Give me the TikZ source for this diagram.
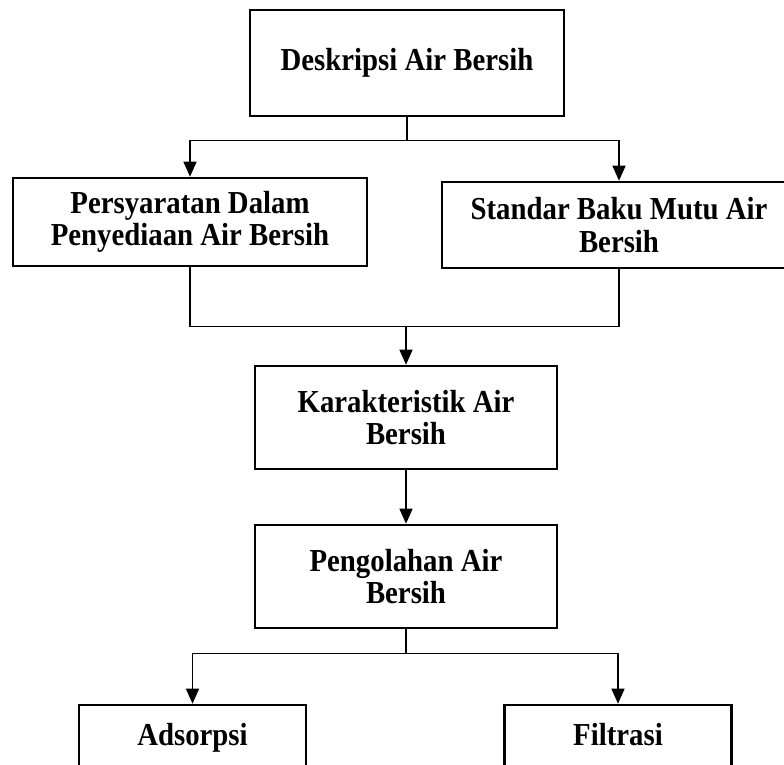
\documentclass[tikz,border=0pt]{standalone}
\usepackage{fontspec}
\setmainfont{Liberation Serif}[FakeStretch=0.9]
\usetikzlibrary{arrows.meta,calc,positioning}
\tikzset{
    block/.style = {draw, rectangle, line width=2.6pt,
        minimum height=103pt,
        minimum width=302pt, align=center,
        font=\fontsize{32}{32.5}\selectfont\bfseries},
    leaf/.style = {block, minimum width=227pt, minimum height=66pt,
        text height=22pt, text depth=7pt},
    line/.style = {draw, line width=1.3pt},
    arrow/.style = {draw, line width=1.3pt, -{Triangle[length=15pt,width=13pt]}}
}
\begin{document}
\begin{tikzpicture}[x=1pt,y=-1pt]
  \useasboundingbox (0,0) rectangle (784,765);
  % boxes
  \node[block,minimum width=314pt,minimum height=106pt] (desk) at (407,63) {Deskripsi Air Bersih};
  \node[block,minimum width=354pt,minimum height=88pt] (syarat) at (190,222) {Persyaratan Dalam\\Penyediaan Air Bersih};
  \node[block,minimum width=354pt,minimum height=86pt] (standar) at (619,225) {Standar Baku Mutu Air\\Bersih};
  \node[block] (karak) at (406,417.5) {Karakteristik Air\\Bersih};
  \node[block] (olah) at (406,576.5) {Pengolahan Air\\Bersih};
  \node[leaf] (adsorpsi) at (192.5,738) {Adsorpsi};
  \node[leaf] (filtrasi) at (618,738) {Filtrasi};
  % connectors
  \draw[line] (desk.south) -- ++(0,23) coordinate (j1);
  \draw[arrow] (j1) -| (syarat.north);
  \draw[arrow] (j1) -| (standar.north);
  \draw[line] (syarat.south) -- ++(0,59) coordinate (j2) -| (standar.south);
  \coordinate (j3) at (karak.north |- j2);
  \draw[arrow] (j3) -- (karak.north);
  \draw[arrow] (karak) -- (olah);
  \draw[line] (olah.south) -- ++(0,24) coordinate (j4);
  \draw[arrow] (j4) -| (adsorpsi.north);
  \draw[arrow] (j4) -| (filtrasi.north);
\end{tikzpicture}
\end{document}
